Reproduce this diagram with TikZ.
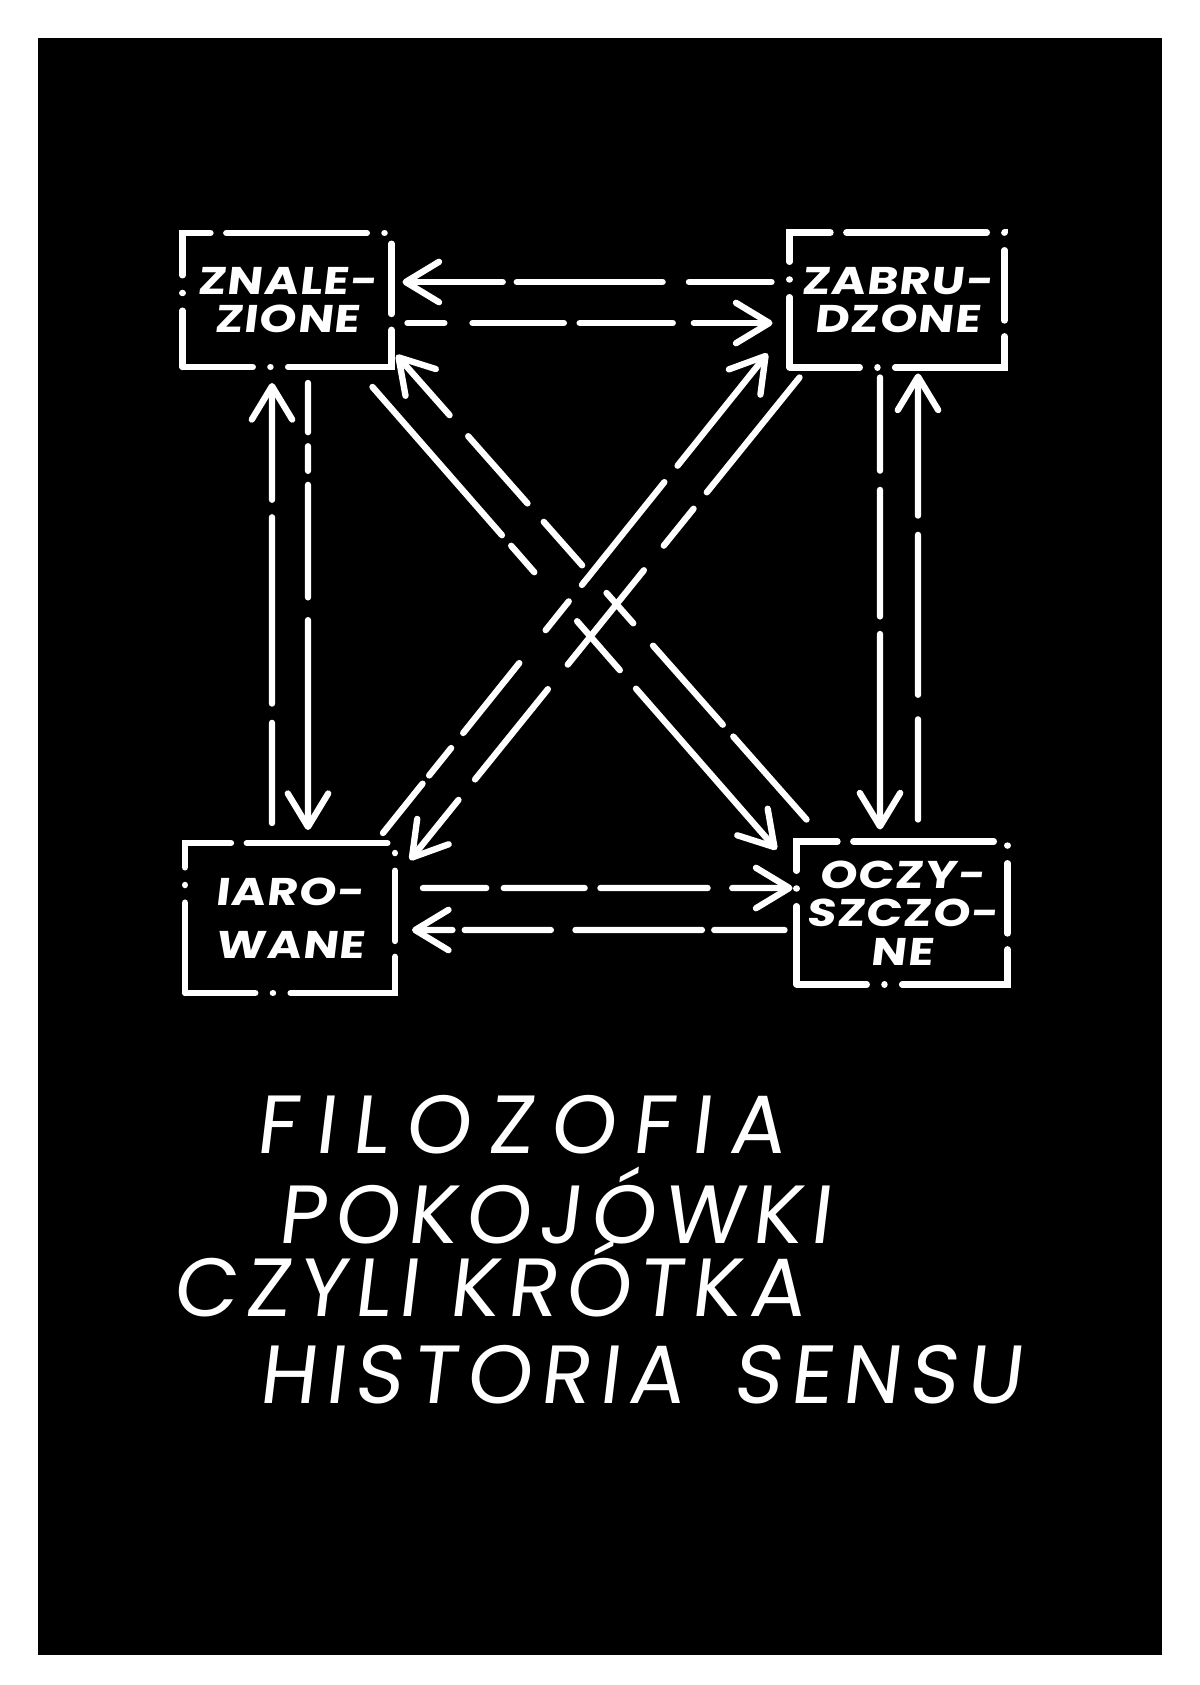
\documentclass[tikz,border=0pt]{standalone}
\usepackage{fontspec}
\usepackage{tikz}
\usetikzlibrary{arrows.meta}
\newfontfamily\handfont{Poppins}[FakeSlant=0.12]
\newfontfamily\labelfont{Poppins}[FakeSlant=0.12, FakeStretch=1.22, LetterSpace=3]

\begin{document}
\begin{tikzpicture}[x = 0.02cm, y = -0.02cm,
box/.style = {draw = white, line width = 3.6pt, line cap = round, outer sep = 0pt, inner sep = 0pt, text = white, align = center, font = \labelfont\bfseries\fontsize{22}{22}\selectfont, dash pattern = on 40pt off 10pt on 0.1pt off 10pt on 80pt off 9pt},
arr/.style = {draw = white, line width = 3.6pt, line cap = round, -{Straight Barb[length = 19pt, width = 23pt, round]}},
title/.style = {anchor = base west, inner sep = 0pt, text = white, font = \handfont\fontsize{47}{47}\selectfont}]

\fill[white] (0,0) rectangle (1200,1685);
\fill[black] (38,38) rectangle (1162,1655);

\node[box, minimum width = 4.18cm, minimum height = 2.68cm] at(287,300) (zn) {ZNALE-\\ZIONE};
\node[box, minimum width = 4.3cm, minimum height = 2.7cm] at(897,300) (za) {ZABRU-\\DZONE};
\node[box, minimum width = 4.2cm, minimum height = 3cm, font = \labelfont\bfseries\fontsize{22}{30}\selectfont] at(290,918) (ia) {IARO-\\WANE};
\node[box, minimum width = 4.22cm, minimum height = 2.86cm] at(902,913) (oc) {OCZY-\\SZCZO-\\NE};


\draw[arr, dash pattern = on 47pt off 15pt on 83pt off 8pt on 100pt] ([xshift = -0.36cm, yshift = 0.36cm]za.west) -- ([xshift = 0.22cm, yshift = 0.36cm]zn.east);
\draw[arr, dash pattern = on 21pt off 16pt on 52pt off 9pt on 53pt off 12pt on 80pt] ([xshift = 0.32cm, yshift = -0.46cm]zn.east) -- ([xshift = -0.34cm, yshift = -0.46cm]za.west);

\draw[arr, dash pattern = on 36pt off 10pt on 46pt off 9pt on 61pt off 14pt on 60pt] ([xshift = 0.56cm, yshift = 0.6cm]ia.east) -- ([xshift = -0.08cm, yshift = 0.5cm]oc.west);
\draw[arr, dash pattern = on 40pt off 7pt on 72pt off 14pt on 49pt off 7pt on 60pt] ([xshift = -0.24cm, yshift = -0.34cm]oc.west) -- ([xshift = 0.34cm, yshift = -0.24cm]ia.east);


\draw[arr, dash pattern = on 57pt off 11pt on 106pt off 10pt on 90pt] ([xshift = -0.36cm, yshift = 0.4cm]ia.north) -- ([xshift = -0.3cm, yshift = -0.32cm]zn.south);
\draw[arr, dash pattern = on 28pt off 8pt on 14pt off 8pt on 64pt off 13pt on 150pt] ([xshift = 0.42cm, yshift = -0.32cm]zn.south) -- ([xshift = 0.36cm, yshift = 0.26cm]ia.north);

\draw[arr, dash pattern = on 53pt off 11pt on 72pt off 10pt on 110pt] ([xshift = -0.34cm, yshift = -0.2cm]za.south) -- ([xshift = -0.44cm, yshift = 0.24cm]oc.north);
\draw[arr, dash pattern = on 57pt off 14pt on 91pt off 11pt on 110pt] ([xshift = 0.32cm, yshift = 0.44cm]oc.north) -- ([xshift = 0.42cm, yshift = -0.12cm]za.south);


\draw[arr, dash pattern = on 112pt off 8pt on 20pt off 37pt on 37pt off 14pt on 200pt] ([xshift = -0.38cm, yshift = -0.4cm]zn.south east) -- ([xshift = -0.4cm, yshift = -0.16cm]oc.north west);
\draw[arr, dash pattern = on 63pt off 9pt on 60pt off 17pt on 23pt off 21pt on 33pt off 14pt on 51pt off 16pt on 80pt] ([xshift = 0.2cm, yshift = 0.44cm]oc.north west) -- ([xshift = 0.1cm, yshift = 0.24cm]zn.south east);

\draw[arr, dash pattern = on 36pt off 6pt on 20pt off 11pt on 51pt off 24pt on 21pt off 12pt on 75pt off 12pt on 100pt] ([xshift = -0.24cm, yshift = 0.2cm]ia.north east) -- ([xshift = -0.44cm, yshift = 0.28cm]za.south west);
\draw[arr, dash pattern = on 84pt off 12pt on 27pt off 18pt on 69pt off 18pt on 66pt off 15pt on 60pt] ([xshift = 0.2cm, yshift = -0.2cm]za.south west) -- ([xshift = 0.3cm, yshift = -0.34cm]ia.north east);


\node[title] at(255,1153) (t1) {\addfontfeature{LetterSpace=21}FILOZOFIA};
\node[title] at(277,1243) (t2) {\addfontfeature{LetterSpace=10}POKOJÓWKI};
\node[title] at(172,1316) (t3) {\addfontfeature{LetterSpace=10}CZYLI KRÓTKA};
\node[title] at(258,1403) (t4) {\addfontfeature{LetterSpace=11}HISTORIA\hspace{10pt} SENSU};
\end{tikzpicture}
\end{document}
